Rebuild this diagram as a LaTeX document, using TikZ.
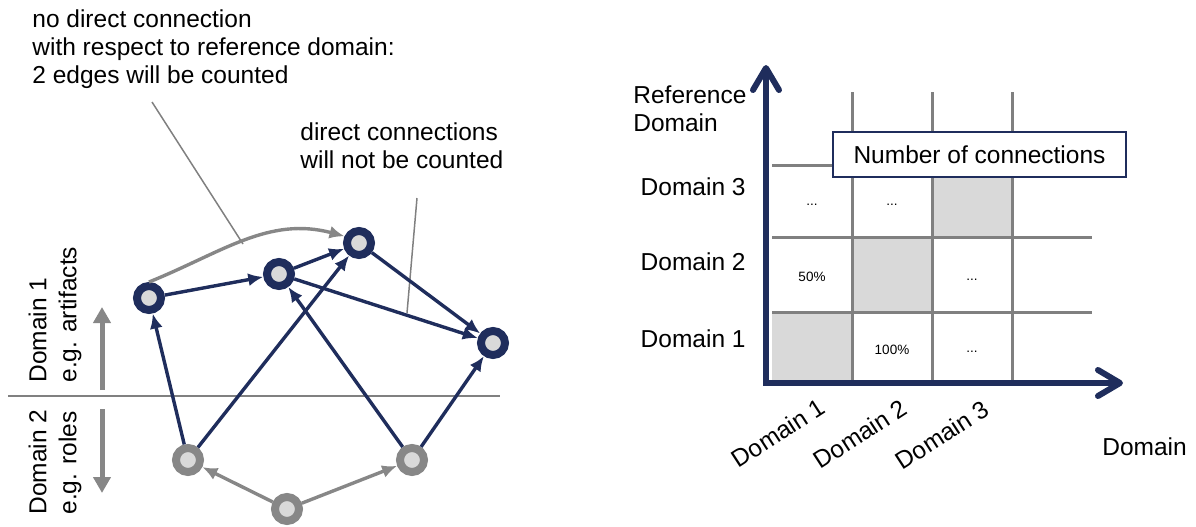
\documentclass[tikz,border=0pt]{standalone}
\usepackage{fontspec}
\setmainfont{Liberation Sans}
\usetikzlibrary{arrows.meta}
\definecolor{cntnavy}{HTML}{1F2D5C}
\definecolor{cntgray}{HTML}{878787}
\definecolor{cntline}{HTML}{808080}
\definecolor{cntfill}{HTML}{D9D9D9}

\begin{document}
\begin{tikzpicture}[x=0.5pt,y=-0.5pt,
  every node/.style={font=\fontsize{12.25}{14}\selectfont,inner sep=0pt},
  art/.style={circle,draw=cntnavy,line width=4pt,fill=cntfill,minimum size=12pt},
  role/.style={circle,draw=cntgray,line width=4pt,fill=cntfill,minimum size=12pt},
  arr/.style={-{Latex[length=7.5pt,width=6.5pt]},line width=1.7pt,draw=cntnavy},
  grayarr/.style={-{Latex[length=7.5pt,width=6.5pt]},line width=1.7pt,draw=cntgray},
  note/.style={align=left,anchor=north west},
  callout/.style={draw=cntline,line width=0.75pt},
  domarr/.style={-{Triangle[length=8pt,width=8.5pt]},line width=2.5pt,draw=cntgray},
  domlabel/.style={rotate=90,anchor=west,align=left,font=\fontsize{12.25}{15}\selectfont},
  gridline/.style={draw=cntline,line width=1.5pt},
  cell/.style={font=\fontsize{6.75}{8}\selectfont},
  refaxis/.style={{Straight Barb[length=11pt,width=13pt,round]}-{Straight Barb[length=11pt,width=13pt,round]},line width=3pt,draw=cntnavy},
  legend/.style={draw=cntnavy,line width=0.75pt,fill=white,minimum width=146.5pt,minimum height=22.5pt}
]
\useasboundingbox (0,0) rectangle (1196,526);

% left: dependency graph
\node[note] (note1) at (32,9) {no direct connection\\with respect to reference domain:\\2 edges will be counted};
\node[note] (note2) at (300,122) {direct connections\\will not be counted};
\coordinate (n1foot) at (152,102);
\coordinate (n1tip) at (243,244);
\coordinate (n2foot) at (417,198);
\coordinate (n2tip) at (407,313);
\draw[callout] (n1foot) -- (n1tip);
\draw[callout] (n2foot) -- (n2tip);

\draw[cntline,line width=0.75pt] (8,396) -- (500,396);

\node[domlabel] (dom1) at (55,383) {Domain 1\\e.g. artifacts};
\node[domlabel] (dom2) at (55,515) {Domain 2\\e.g. roles};
\coordinate (d1base) at (102,390);
\coordinate (d1tip) at (102,307);
\coordinate (d2base) at (102,409);
\coordinate (d2tip) at (102,493);
\draw[domarr] (d1base) -- (d1tip);
\draw[domarr] (d2base) -- (d2tip);

\node[art] (A) at (149,298) {};
\node[art] (B) at (279,274) {};
\node[art] (C) at (359,243) {};
\node[art] (D) at (493,343) {};
\node[role] (E) at (188,460) {};
\node[role] (F) at (412,460) {};
\node[role] (G) at (287,509) {};

\draw[grayarr] (A.north) to[out=22,in=165] (C.155);
\draw[arr] (A) -- (B);
\draw[arr] (B) -- (C);
\draw[arr] (E) -- (A);
\draw[arr] (E) -- (C);
\draw[arr] (F) -- (B);
\draw[arr] (F) -- (D);
\draw[arr] (C) -- (D);
\draw[arr] (B) -- (D);
\draw[grayarr] (G) -- (E);
\draw[grayarr] (G) -- (F);

% right: connection matrix
\fill[cntfill] (772,312) rectangle (852,383);
\fill[cntfill] (852,237) rectangle (932,312);
\fill[cntfill] (932,165) rectangle (1012,237);
\foreach \x in {852,932,1012}
  \draw[gridline] (\x,92) -- (\x,383);
\foreach \y in {165,237,312}
  \draw[gridline] (772,\y) -- (1092,\y);

\node[cell] (c13) at (812,205) {...};
\node[cell] (c23) at (892,205) {...};
\node[cell] (c12) at (812,277) {50\%};
\node[cell] (c32) at (972,280) {...};
\node[cell] (c21) at (892,350) {100\%};
\node[cell] (c31) at (972,352) {...};

\node[legend] (count) at (979.5,154.5) {Number of connections};

\coordinate (ytip) at (766,65);
\coordinate (origin) at (766,383);
\coordinate (xtip) at (1123,383);
\draw[refaxis] (ytip) -- (origin) -- (xtip);

\node[align=left,anchor=north west] (refdom) at (633,85) {Reference\\Domain};
\node[anchor=east] (row3) at (746,187) {Domain 3};
\node[anchor=east] (row2) at (746,262) {Domain 2};
\node[anchor=east] (row1) at (746,339) {Domain 1};
\node[rotate=33] (col1) at (778,433) {Domain 1};
\node[rotate=33] (col2) at (860,434) {Domain 2};
\node[rotate=33] (col3) at (942,435) {Domain 3};
\node[anchor=west] (dom) at (1102,447) {Domain};
\end{tikzpicture}
\end{document}
